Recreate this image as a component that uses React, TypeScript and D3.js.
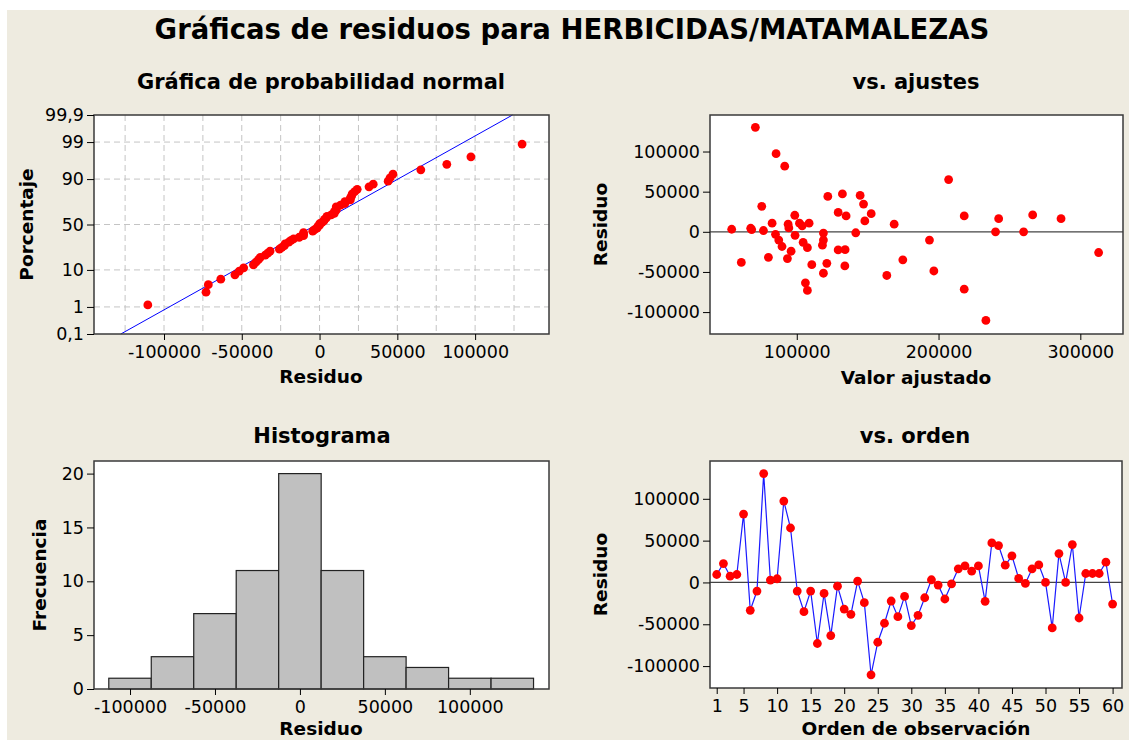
import React, { useEffect, useRef } from "react";
import * as d3 from "d3";

// residuos de las 60 observaciones, en orden de observación
const residuals = [
  9500, 22600, 7500, 9500, 81800, -33300, -10300, 130200, 2800, 4400,
  97300, 65100, -10300, -34900, -10300, -73000, -13100, -63500, -4400, -31800,
  -38100, 1600, -24200, -110400, -71500, -48800, -22200, -40900, -16700, -51600,
  -39300, -18300, 3200, -3200, -19800, -1600, 16300, 19800, 13500, 19800,
  -22600, 47200, 44100, 20600, 31800, 4800, -1200, 16300, 21000, 0,
  -54400, 34500, 0, 45300, -42500, 10700, 10700, 10700, 24200, -25800,
];

// valor ajustado de cada observación (mismo orden)
const fitted = [
  93900, 152500, 103800, 168700, 91500, 93400, 118800, 70800, 68200, 67500,
  85400, 207100, 87300, 174800, 193600, 107500, 104500, 106100, 98800, 80000,
  60900, 76500, 96000, 233400, 218100, 196700, 134100, 110600, 118100, 118800,
  121200, 89600, 54100, 85000, 107500, 118800, 286400, 134800, 148000, 218100,
  129200, 132200, 121900, 98600, 75300, 94400, 141600, 242400, 266400, 240200,
  163500, 147100, 260000, 144700, 133900, 82600, 108700, 101900, 129200, 312900,
];

const probTicks = [0.1, 1, 10, 50, 90, 99, 99.9];
const probGrid = [1, 10, 50, 90, 99];
const residTicks = [-100000, -50000, 0, 50000, 100000];
const fitTicks = [100000, 200000, 300000];
const freqTicks = [0, 5, 10, 15, 20];
const orderTicks = [1, 5, 10, 15, 20, 25, 30, 35, 40, 45, 50, 55, 60];
const binEdges = d3.range(-112500, 137501, 25000);

const FONT = "'DejaVu Sans', Verdana, sans-serif";
const BG = "#eeebe0";

// inversa de la normal estándar (aproximación de Acklam)
function normInv(p: number): number {
  const a = [-39.69683028665376, 220.9460984245205, -275.9285104469687, 138.357751867269, -30.66479806614716, 2.506628277459239];
  const b = [-54.47609879822406, 161.5858368580409, -155.6989798598866, 66.80131188771972, -13.28068155288572];
  const c = [-0.007784894002430293, -0.3223964580411365, -2.400758277161838, -2.549732539343734, 4.374664141464968, 2.938163982698783];
  const d = [0.007784695709041462, 0.3224671290700398, 2.445134137142996, 3.754408661907416];
  const pl = 0.02425;
  if (p < pl) {
    const q = Math.sqrt(-2 * Math.log(p));
    return (((((c[0] * q + c[1]) * q + c[2]) * q + c[3]) * q + c[4]) * q + c[5]) / ((((d[0] * q + d[1]) * q + d[2]) * q + d[3]) * q + 1);
  }
  if (p > 1 - pl) {
    const q = Math.sqrt(-2 * Math.log(1 - p));
    return -(((((c[0] * q + c[1]) * q + c[2]) * q + c[3]) * q + c[4]) * q + c[5]) / ((((d[0] * q + d[1]) * q + d[2]) * q + d[3]) * q + 1);
  }
  const q = p - 0.5;
  const r = q * q;
  return (((((a[0] * r + a[1]) * r + a[2]) * r + a[3]) * r + a[4]) * r + a[5]) * q / (((((b[0] * r + b[1]) * r + b[2]) * r + b[3]) * r + b[4]) * r + 1);
}

const ResidualPlots: React.FC = () => {
  const ref = useRef<HTMLDivElement>(null);

  useEffect(() => {
    if (!ref.current) return;
    d3.select(ref.current).selectAll("svg").remove();

    const width = 1129;
    const height = 740;

    const svg = d3.select(ref.current)
      .append("svg")
      .attr("width", width)
      .attr("height", height)
      .style("display", "block");

    // fondo beige con el borde blanco arriba y a la izquierda
    svg.append("rect").attr("width", width).attr("height", height).attr("fill", "#fff");
    svg.append("rect").attr("x", 7).attr("y", 10).attr("width", width - 7).attr("height", height - 10).attr("fill", BG);

    const text = (x: number, y: number, s: string, size: number, bold = true, rotate = false) => {
      const t = svg.append("text")
        .attr("font-family", FONT)
        .attr("font-size", size)
        .attr("font-weight", bold ? "bold" : "normal")
        .attr("text-anchor", "middle")
        .attr("fill", "#000")
        .text(s);
      if (rotate) t.attr("transform", `translate(${x},${y}) rotate(-90)`);
      else t.attr("x", x).attr("y", y);
      return t;
    };

    const frame = (b: { x0: number; x1: number; y0: number; y1: number }) =>
      svg.append("rect")
        .attr("x", b.x0).attr("y", b.y0)
        .attr("width", b.x1 - b.x0).attr("height", b.y1 - b.y0)
        .attr("fill", "#fff");

    const border = (b: { x0: number; x1: number; y0: number; y1: number }) =>
      svg.append("rect")
        .attr("x", b.x0).attr("y", b.y0)
        .attr("width", b.x1 - b.x0).attr("height", b.y1 - b.y0)
        .attr("fill", "none").attr("stroke", "#3a3a3a").attr("stroke-width", 1.5);

    const styleAxis = (g: d3.Selection<SVGGElement, unknown, null, undefined>) => {
      g.attr("font-family", FONT).attr("font-size", 17.5);
      g.select(".domain").remove();
      g.selectAll(".tick line").attr("stroke", "#000");
      g.selectAll(".tick text").attr("fill", "#000");
    };

    const fmt = (d: d3.NumberValue) => String(d);

    text(572, 39, "Gráficas de residuos para HERBICIDAS/MATAMALEZAS", 27.5);

    // ---- Gráfica de probabilidad normal ----
    const b1 = { x0: 94, x1: 549, y0: 115, y1: 334 };
    const x1 = d3.scaleLinear().domain([-145000, 147500]).range([b1.x0, b1.x1]);
    const y1 = d3.scaleLinear().domain([normInv(0.001), normInv(0.999)]).range([b1.y1, b1.y0]);
    frame(b1);

    const grid = svg.append("g").attr("stroke", "#c4c4c4").attr("stroke-dasharray", "6,4");
    grid.selectAll("line.v")
      .data(d3.range(-125000, 125001, 25000))
      .join("line")
      .attr("class", "v")
      .attr("x1", d => x1(d)).attr("x2", d => x1(d))
      .attr("y1", b1.y0).attr("y2", b1.y1);
    grid.selectAll("line.h")
      .data(probGrid)
      .join("line")
      .attr("class", "h")
      .attr("x1", b1.x0).attr("x2", b1.x1)
      .attr("y1", d => y1(normInv(d / 100))).attr("y2", d => y1(normInv(d / 100)));

    const n = residuals.length;
    const sorted = residuals.slice().sort((a, b) => a - b);
    const mean = d3.mean(residuals) as number;
    const sd = d3.deviation(residuals) as number;
    const zLo = normInv(0.001);
    const zHi = normInv(0.999);
    svg.append("line")
      .attr("x1", x1(mean + sd * zLo)).attr("y1", y1(zLo))
      .attr("x2", x1(mean + sd * zHi)).attr("y2", y1(zHi))
      .attr("stroke", "#0000ff").attr("stroke-width", 1);

    svg.append("g").selectAll("circle")
      .data(sorted)
      .join("circle")
      .attr("cx", d => x1(d))
      .attr("cy", (d, i) => y1(normInv((i + 1 - 0.3) / (n + 0.4))))
      .attr("r", 4.4)
      .attr("fill", "#ff0000");

    border(b1);
    svg.append("g").attr("transform", `translate(0,${b1.y1})`)
      .call(d3.axisBottom(x1).tickValues(residTicks).tickFormat(fmt).tickSize(6).tickPadding(6))
      .call(styleAxis);
    svg.append("g").attr("transform", `translate(${b1.x0},0)`)
      .call(d3.axisLeft(d3.scaleLinear().domain(y1.domain()).range(y1.range()))
        .tickValues(probTicks.map(p => normInv(p / 100)))
        .tickFormat((d, i) => String(probTicks[i]).replace(".", ","))
        .tickSize(7).tickPadding(3))
      .call(styleAxis);
    text(321, 89, "Gráfica de probabilidad normal", 21);
    text(321, 383, "Residuo", 18.5);
    text(33, 224.5, "Porcentaje", 18.5, true, true);

    // ---- vs. ajustes ----
    const b2 = { x0: 710, x1: 1123, y0: 115, y1: 334 };
    const x2 = d3.scaleLinear().domain([38800, 330100]).range([b2.x0, b2.x1]);
    const y2 = d3.scaleLinear().domain([-127300, 145500]).range([b2.y1, b2.y0]);
    frame(b2);
    svg.append("line")
      .attr("x1", b2.x0).attr("x2", b2.x1)
      .attr("y1", y2(0)).attr("y2", y2(0))
      .attr("stroke", "#444").attr("stroke-width", 1.3);
    svg.append("g").selectAll("circle")
      .data(fitted)
      .join("circle")
      .attr("cx", d => x2(d))
      .attr("cy", (d, i) => y2(residuals[i]))
      .attr("r", 4.4)
      .attr("fill", "#ff0000");
    border(b2);
    svg.append("g").attr("transform", `translate(0,${b2.y1})`)
      .call(d3.axisBottom(x2).tickValues(fitTicks).tickFormat(fmt).tickSize(6).tickPadding(6))
      .call(styleAxis);
    svg.append("g").attr("transform", `translate(${b2.x0},0)`)
      .call(d3.axisLeft(y2).tickValues(residTicks).tickFormat(fmt).tickSize(7).tickPadding(3))
      .call(styleAxis);
    text(916, 89, "vs. ajustes", 21);
    text(916, 384, "Valor ajustado", 18.5);
    text(607, 224.5, "Residuo", 18.5, true, true);

    // ---- Histograma ----
    const b3 = { x0: 94, x1: 549, y0: 461, y1: 689 };
    const x3 = d3.scaleLinear().domain([-121200, 146600]).range([b3.x0, b3.x1]);
    const y3 = d3.scaleLinear().domain([0, 21.17]).range([b3.y1, b3.y0]);
    const bins = d3.bin()
      .domain([binEdges[0], binEdges[binEdges.length - 1]])
      .thresholds(binEdges.slice(1, -1))(residuals);
    frame(b3);
    svg.append("g").selectAll("rect")
      .data(bins)
      .join("rect")
      .attr("x", d => x3(d.x0 as number))
      .attr("width", d => x3(d.x1 as number) - x3(d.x0 as number))
      .attr("y", d => y3(d.length))
      .attr("height", d => y3(0) - y3(d.length))
      .attr("fill", "#c0c0c0")
      .attr("stroke", "#222")
      .attr("stroke-width", 1.2);
    border(b3);
    svg.append("g").attr("transform", `translate(0,${b3.y1})`)
      .call(d3.axisBottom(x3).tickValues(residTicks).tickFormat(fmt).tickSize(6).tickPadding(6))
      .call(styleAxis);
    svg.append("g").attr("transform", `translate(${b3.x0},0)`)
      .call(d3.axisLeft(y3).tickValues(freqTicks).tickFormat(fmt).tickSize(7).tickPadding(3))
      .call(styleAxis);
    text(322, 443, "Histograma", 21);
    text(321, 735, "Residuo", 18.5);
    text(46, 575, "Frecuencia", 18.5, true, true);

    // ---- vs. orden ----
    const b4 = { x0: 710, x1: 1122, y0: 461, y1: 688 };
    const x4 = d3.scaleLinear().domain([0, 61.4]).range([b4.x0, b4.x1]);
    const y4 = d3.scaleLinear().domain([-126200, 145200]).range([b4.y1, b4.y0]);
    frame(b4);
    svg.append("line")
      .attr("x1", b4.x0).attr("x2", b4.x1)
      .attr("y1", y4(0)).attr("y2", y4(0))
      .attr("stroke", "#444").attr("stroke-width", 1.3);
    const line = d3.line<number>()
      .x((d, i) => x4(i + 1))
      .y(d => y4(d));
    svg.append("path")
      .attr("d", line(residuals))
      .attr("fill", "none")
      .attr("stroke", "#1a1aff")
      .attr("stroke-width", 1.2);
    svg.append("g").selectAll("circle")
      .data(residuals)
      .join("circle")
      .attr("cx", (d, i) => x4(i + 1))
      .attr("cy", d => y4(d))
      .attr("r", 4.4)
      .attr("fill", "#ff0000");
    border(b4);
    svg.append("g").attr("transform", `translate(0,${b4.y1})`)
      .call(d3.axisBottom(x4).tickValues(orderTicks).tickFormat(fmt).tickSize(6).tickPadding(6))
      .call(styleAxis);
    svg.append("g").attr("transform", `translate(${b4.x0},0)`)
      .call(d3.axisLeft(y4).tickValues(residTicks).tickFormat(fmt).tickSize(7).tickPadding(3))
      .call(styleAxis);
    text(915, 443, "vs. orden", 21);
    text(916, 735, "Orden de observación", 18.5);
    text(607, 574.5, "Residuo", 18.5, true, true);
  }, []);

  return <div ref={ref} />;
};

export default function App() {
  return (
    <div style={{ position: "absolute", left: 0, top: 0 }}>
      <ResidualPlots />
    </div>
  );
}
